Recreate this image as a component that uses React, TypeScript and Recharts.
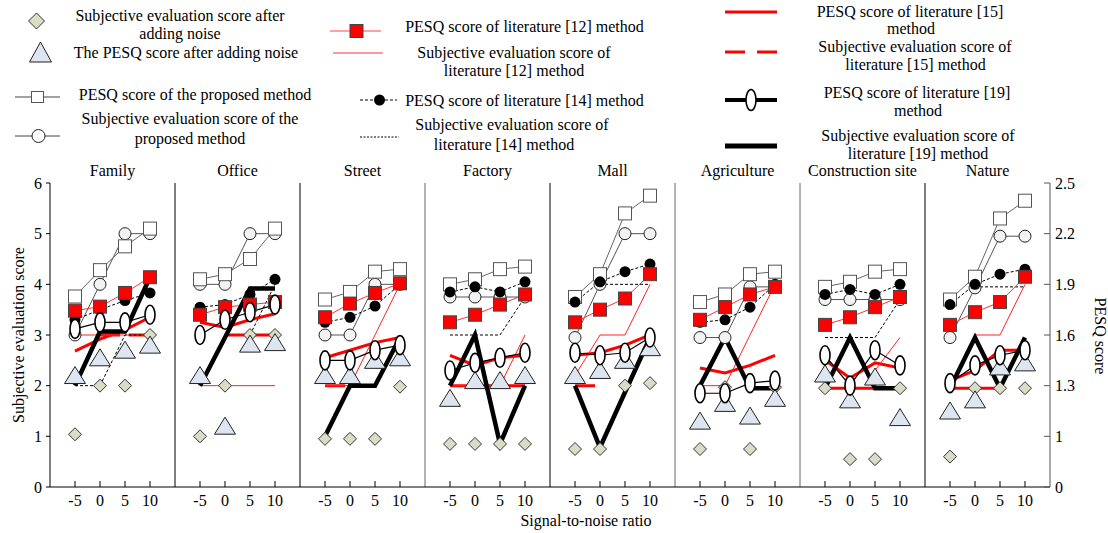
import { ComposedChart, Line, XAxis, YAxis, ReferenceLine } from 'recharts';

const font = "'Liberation Serif', 'Times New Roman', serif";

const panels = ['Family', 'Office', 'Street', 'Factory', 'Mall', 'Agriculture', 'Construction site', 'Nature'];
const snrLabels = ['-5', '0', '5', '10'];
const subjTicks = [0, 1, 2, 3, 4, 5, 6];
const pesqTickLabels = ['0', '1', '1.3', '1.6', '1.9', '2.2', '2.5'];
const separatorColors = ['#000', '#000', '#666', '#000', '#666', '#666', '#000'];

// one inner array per panel, values at SNR -5, 0, 5, 10
const noisySubjective = [[1.04, 2, 2, 3], [1, 2, 3, 3], [0.95, 0.95, 0.95, 1.98], [0.85, 0.85, 0.85, 0.85], [0.75, 0.75, 2, 2.05], [0.75, 1.97, 0.75, 1.97], [1.95, 0.55, 0.55, 1.95], [0.6, 1.95, 1.95, 1.95]];
const noisyPesq = [[2.2, 2.55, 2.7, 2.8], [2.2, 1.2, 2.82, 2.85], [2.2, 2.2, 2.5, 2.55], [1.75, 2.1, 2.1, 2.2], [2.2, 2.3, 2.5, 2.75], [1.3, 1.65, 1.4, 1.75], [2.23, 1.72, 2.17, 1.37], [1.5, 1.72, 2.37, 2.45]];
const proposedPesq = [[3.76, 4.28, 4.75, 5.1], [4.1, 4.2, 4.5, 5.1], [3.7, 3.85, 4.25, 4.3], [4.0, 4.1, 4.3, 4.35], [3.75, 4.2, 5.4, 5.75], [3.65, 3.8, 4.2, 4.25], [3.95, 4.05, 4.25, 4.3], [3.7, 4.15, 5.3, 5.65]];
const proposedSubj = [[3, 4, 5, 5], [4, 4, 5, 5], [3, 3, 4, 4], [3.75, 3.75, 3.75, 3.75], [2.95, 4, 5, 5], [2.95, 2.95, 3.95, 3.95], [3.7, 3.7, 3.7, 3.7], [2.95, 3.93, 4.95, 4.95]];
const lit12Pesq = [[3.48, 3.56, 3.83, 4.14], [3.4, 3.55, 3.6, 3.65], [3.35, 3.62, 3.83, 4.02], [3.25, 3.4, 3.6, 3.8], [3.25, 3.5, 3.72, 4.2], [3.3, 3.55, 3.8, 3.95], [3.2, 3.35, 3.55, 3.75], [3.2, 3.45, 3.65, 4.15]];
const lit12Subj = [[3, 3, 3, 3], [2, 2, 2, 2], [2, 2, 3, 4], [2, 2, 2, 3], [2.2, 3, 3, 4], [2, 2, 3, 4], [null, null, 2.3, 2.95], [2, 3, 3, 4]];
const lit14Pesq = [[3.3, 3.5, 3.68, 3.83], [3.55, 3.6, 3.8, 4.1], [3.25, 3.35, 3.57, 4.0], [3.85, 3.95, 3.85, 4.05], [3.65, 4.05, 4.25, 4.4], [3.25, 3.3, 3.55, 4.0], [3.8, 3.9, 3.8, 4.0], [3.6, 4.0, 4.2, 4.3]];
const lit14Subj = [[2, 2, 3, 3], [null, null, 3, 4], [null, null, null, null], [3, 3, 3, 3.75], [null, 4, 4, 4], [null, null, null, null], [2.95, 2.95, 2.95, 3.7], [null, 3.95, 3.95, 3.95]];
const lit15Pesq = [[2.68, 2.92, 3.1, 3.35], [3.25, 3.15, 3.3, 3.42], [2.55, 2.7, 2.85, 2.95], [2.6, 2.4, 2.55, 2.6], [2.6, 2.65, 2.8, 3.0], [2.35, 2.25, 2.4, 2.6], [2.5, 2.15, 2.45, 2.35], [2.1, 2.3, 2.7, 2.7]];
const lit15Subj = [[null, 3, 3, 3], [null, 3, 3, 3], [2, 2, null, null], [2, 2, 2, 2], [2, 2, null, null], [null, null, 1.95, 1.95], [1.95, 1.95, 1.95, null], [1.95, 1.95, 1.95, null]];
const lit19Pesq = [[3.12, 3.25, 3.25, 3.4], [3.0, 3.3, 3.45, 3.6], [2.5, 2.5, 2.7, 2.8], [2.3, 2.45, 2.55, 2.65], [2.65, 2.6, 2.65, 2.95], [1.85, 1.85, 2.05, 2.1], [2.6, 2.0, 2.7, 2.4], [2.05, 2.4, 2.6, 2.7]];
const lit19Subj = [[2, 3.07, 3.07, 4.14], [2, 2.95, 3.92, 3.92], [1, 2, 2, 2.95], [2, 3, 0.85, 2], [2, 0.78, 1.87, 2.95], [2, 2.95, 1.95, 1.95], [1.95, 2.95, 1.95, 1.95], [1.95, 2.95, 1.95, 2.95]];

const seriesTable: Record<string, (number | null)[][]> = {
  noisySubjective, noisyPesq, proposedPesq, proposedSubj, lit12Pesq, lit12Subj,
  lit14Pesq, lit14Subj, lit15Pesq, lit15Subj, lit19Pesq, lit19Subj,
};

// panel p spans x in [5p, 5p+5]; points at 5p+1..5p+4, a null row on the border breaks the lines
const rows: Record<string, number | null>[] = [];
panels.forEach((_, p) => {
  snrLabels.forEach((_, i) => {
    const row: Record<string, number | null> = { x: p * 5 + i + 1 };
    Object.keys(seriesTable).forEach((k) => { row[k] = seriesTable[k][p][i]; });
    rows.push(row);
  });
  if (p < panels.length - 1) {
    const gap: Record<string, number | null> = { x: p * 5 + 5 };
    Object.keys(seriesTable).forEach((k) => { gap[k] = null; });
    rows.push(gap);
  }
});

const snrTicks = rows.filter((r) => (r.x as number) % 5 !== 0).map((r) => r.x as number);
const panelTicks = panels.map((_, p) => p * 5 + 2.5);
const separators = panels.slice(1).map((_, p) => (p + 1) * 5);

const marker = (draw: (cx: number, cy: number) => JSX.Element) => (props: any) => {
  const { cx, cy, index, value } = props;
  if (cx == null || cy == null || value == null || Number.isNaN(cy)) return <g key={`n${index}`} />;
  return <g key={`m${index}`}>{draw(cx, cy)}</g>;
};

const diamond = (cx: number, cy: number) => (
  <polygon points={`${cx},${cy - 6.5} ${cx + 6.5},${cy} ${cx},${cy + 6.5} ${cx - 6.5},${cy}`} fill="#d9ddc6" stroke="#333" strokeWidth={1} />
);
const triangle = (cx: number, cy: number) => (
  <polygon points={`${cx},${cy - 9} ${cx + 10.5},${cy + 8} ${cx - 10.5},${cy + 8}`} fill="#dde5f1" stroke="#222" strokeWidth={1} />
);
const openSquare = (cx: number, cy: number) => (
  <rect x={cx - 6.5} y={cy - 6.5} width={13} height={13} fill="#fff" stroke="#555" strokeWidth={1} />
);
const openCircle = (cx: number, cy: number) => (
  <circle cx={cx} cy={cy} r={6} fill="#f2f2f2" stroke="#222" strokeWidth={1} />
);
const redSquare = (cx: number, cy: number) => (
  <rect x={cx - 6.5} y={cy - 6.5} width={13} height={13} fill="#ff0000" stroke="#444" strokeWidth={1} />
);
const blackDot = (cx: number, cy: number) => <circle cx={cx} cy={cy} r={5.5} fill="#000" />;
const ellipse = (cx: number, cy: number) => (
  <ellipse cx={cx} cy={cy} rx={5} ry={9.5} fill="#fff" stroke="#000" strokeWidth={1.6} />
);

const SnrTick = (props: any) => {
  const { x, y, payload } = props;
  const idx = Math.round(payload.value) % 5 - 1;
  return (
    <g>
      <line x1={x} x2={x} y1={y} y2={y - 6} stroke="#000" />
      <text x={x} y={y + 19} textAnchor="middle" fontSize={16} fontFamily={font} fill="#000">{snrLabels[idx]}</text>
    </g>
  );
};

const PesqTick = (props: any) => {
  const { x, y, payload } = props;
  return (
    <g>
      <line x1={x - 6} x2={x} y1={y} y2={y} stroke="#555" />
      <text x={x + 5} y={y} dominantBaseline="central" fontSize={16} fontFamily={font} fill="#000">
        {pesqTickLabels[payload.value]}
      </text>
    </g>
  );
};

const T = ({ x, y, children }: { x: number; y: number; children: string }) => (
  <text x={x} y={y} textAnchor="middle" dominantBaseline="central">{children}</text>
);

const LegendOverlay = () => (
  <svg width={1108} height={165} style={{ position: 'absolute', left: 0, top: 0 }} fontFamily={font} fontSize={16} fill="#000">
    {/* column 1 */}
    <polygon points="36.5,13 44.5,21 36.5,29 28.5,21" fill="#d9ddc6" stroke="#333" />
    <T x={180} y={15}>Subjective evaluation score after</T>
    <T x={180} y={33}>adding noise</T>
    <polygon points="40.5,42 51.5,62 29.5,62" fill="#dde5f1" stroke="#222" />
    <T x={186} y={52}>The PESQ score after adding noise</T>
    <line x1={15} x2={60} y1={97} y2={97} stroke="#444" />
    <rect x={31.5} y={91.5} width={12} height={11} fill="#fff" stroke="#555" />
    <T x={195} y={94}>PESQ score of the proposed method</T>
    <line x1={15} x2={60} y1={136} y2={136} stroke="#444" />
    <circle cx={38.5} cy={136} r={6.5} fill="#fff" stroke="#222" />
    <T x={190} y={118}>Subjective evaluation score of the</T>
    <T x={190} y={138}>proposed method</T>
    {/* column 2 */}
    <line x1={330} x2={381} y1={31} y2={31} stroke="#ff4444" />
    <rect x={350} y={24.5} width={13} height={13} fill="#ff0000" stroke="#444" />
    <T x={524.5} y={26}>PESQ score of literature [12] method</T>
    <line x1={333} x2={383} y1={53} y2={53} stroke="#ff3333" />
    <T x={514} y={52}>Subjective evaluation score of</T>
    <T x={514} y={70}>literature [12] method</T>
    <line x1={360} x2={397} y1={100} y2={100} stroke="#000" strokeDasharray="3 2" />
    <circle cx={379.5} cy={100} r={5.5} fill="#000" />
    <T x={524.5} y={100}>PESQ score of literature [14] method</T>
    <line x1={360} x2={399} y1={137} y2={137} stroke="#000" strokeDasharray="2 1.5" />
    <T x={512} y={124}>Subjective evaluation score of</T>
    <T x={504} y={144}>literature [14] method</T>
    {/* column 3 */}
    <line x1={725} x2={777} y1={12} y2={12} stroke="#ff0000" strokeWidth={3} />
    <T x={910} y={11}>PESQ score of literature [15]</T>
    <T x={911} y={28}>method</T>
    <line x1={725} x2={777} y1={52} y2={52} stroke="#ff0000" strokeWidth={3} strokeDasharray="20 12" />
    <T x={915} y={46}>Subjective evaluation score of</T>
    <T x={915.5} y={64}>literature [15] method</T>
    <line x1={725} x2={777} y1={100} y2={100} stroke="#000" strokeWidth={4} />
    <ellipse cx={751} cy={100} rx={5} ry={10.5} fill="#fff" stroke="#000" strokeWidth={1.6} />
    <T x={917} y={92}>PESQ score of literature [19]</T>
    <T x={918} y={110}>method</T>
    <line x1={725} x2={777} y1={146} y2={146} stroke="#000" strokeWidth={5} />
    <T x={918} y={135}>Subjective evaluation score of</T>
    <T x={918} y={153}>literature [19] method</T>
  </svg>
);

export default function App() {
  return (
    <div style={{ position: 'absolute', left: 0, top: 0, width: 1108, height: 533, background: '#fff', fontFamily: font }}>
      <ComposedChart width={1108} height={533} data={rows} margin={{ top: 158, right: 0, bottom: 16, left: 0 }}>
        <XAxis
          xAxisId="bottom"
          dataKey="x"
          type="number"
          domain={[0, 40]}
          ticks={snrTicks}
          interval={0}
          tick={<SnrTick />}
          tickSize={0}
          tickMargin={0}
          tickLine={false}
          axisLine={{ stroke: '#000' }}
          height={30}
        />
        <XAxis
          xAxisId="top"
          orientation="top"
          dataKey="x"
          type="number"
          domain={[0, 40]}
          ticks={panelTicks}
          interval={0}
          tickFormatter={(v: number) => panels[Math.round((v - 2.5) / 5)]}
          tick={{ fill: '#000', fontSize: 16, fontFamily: font }}
          tickSize={0}
          tickMargin={7}
          axisLine={false}
          tickLine={false}
          height={25}
        />
        <YAxis
          yAxisId="subj"
          domain={[0, 6]}
          ticks={subjTicks}
          interval={0}
          width={50}
          tickSize={4}
          tickMargin={4}
          tick={{ fill: '#000', fontSize: 16, fontFamily: font }}
          axisLine={{ stroke: '#000' }}
          tickLine={{ stroke: '#000' }}
        />
        <YAxis
          yAxisId="pesq"
          orientation="right"
          domain={[0, 6]}
          ticks={subjTicks}
          interval={0}
          width={58}
          tickSize={0}
          tickMargin={0}
          tick={<PesqTick />}
          axisLine={{ stroke: '#555' }}
          tickLine={false}
        />
        {separators.map((s, i) => (
          <ReferenceLine key={s} x={s} xAxisId="bottom" yAxisId="subj" stroke={separatorColors[i]} strokeWidth={1} />
        ))}

        <Line xAxisId="bottom" yAxisId="subj" dataKey="lit15Subj" stroke="#ff0000" strokeWidth={3} strokeDasharray="20 9" dot={false} isAnimationActive={false} />
        <Line xAxisId="bottom" yAxisId="pesq" dataKey="lit15Pesq" stroke="#ff0000" strokeWidth={3} dot={false} isAnimationActive={false} />
        <Line xAxisId="bottom" yAxisId="subj" dataKey="lit12Subj" stroke="#ff2222" strokeWidth={1} dot={false} isAnimationActive={false} />
        <Line xAxisId="bottom" yAxisId="subj" dataKey="lit14Subj" stroke="#000" strokeWidth={1} strokeDasharray="3 2" dot={false} isAnimationActive={false} />

        <Line xAxisId="top" yAxisId="subj" dataKey="noisySubjective" stroke="none" dot={marker(diamond)} activeDot={false} isAnimationActive={false} />
        <Line xAxisId="top" yAxisId="pesq" dataKey="noisyPesq" stroke="none" dot={marker(triangle)} activeDot={false} isAnimationActive={false} />

        <Line xAxisId="bottom" yAxisId="subj" dataKey="proposedSubj" stroke="#555" strokeWidth={1} dot={marker(openCircle)} activeDot={false} isAnimationActive={false} />
        <Line xAxisId="bottom" yAxisId="pesq" dataKey="proposedPesq" stroke="#666" strokeWidth={1} dot={marker(openSquare)} activeDot={false} isAnimationActive={false} />
        <Line xAxisId="bottom" yAxisId="pesq" dataKey="lit14Pesq" stroke="#000" strokeWidth={1} strokeDasharray="3 2" dot={marker(blackDot)} activeDot={false} isAnimationActive={false} />
        <Line xAxisId="bottom" yAxisId="pesq" dataKey="lit12Pesq" stroke="#ff3333" strokeWidth={1} dot={marker(redSquare)} activeDot={false} isAnimationActive={false} />
        <Line xAxisId="bottom" yAxisId="pesq" dataKey="lit19Pesq" stroke="#000" strokeWidth={1.2} dot={marker(ellipse)} activeDot={false} isAnimationActive={false} />
        <Line xAxisId="bottom" yAxisId="subj" dataKey="lit19Subj" stroke="#000" strokeWidth={4.5} dot={false} isAnimationActive={false} />
      </ComposedChart>

      <svg width={1108} height={533} style={{ position: 'absolute', left: 0, top: 0, pointerEvents: 'none' }} fontFamily={font} fontSize={16}>
        <text transform="translate(18,335) rotate(-90)" textAnchor="middle" dominantBaseline="central">Subjective evaluation score</text>
        <text transform="translate(1100,336) rotate(90)" textAnchor="middle" dominantBaseline="central">PESQ score</text>
        <text x={586} y={520} textAnchor="middle" dominantBaseline="central">Signal-to-noise ratio</text>
      </svg>
      <LegendOverlay />
    </div>
  );
}
